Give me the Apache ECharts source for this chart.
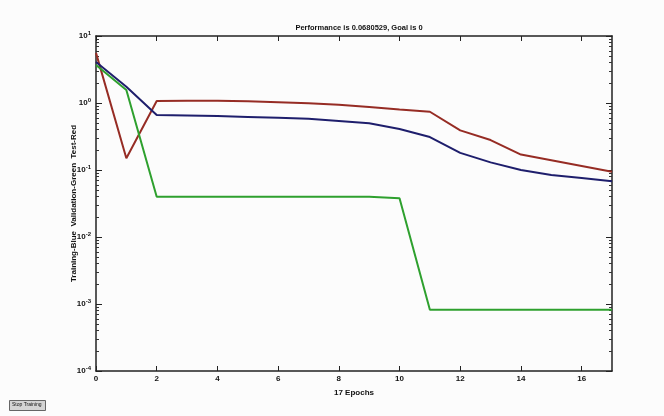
<!DOCTYPE html>
<html>
<head>
<meta charset="utf-8">
<script src="https://cdn.jsdelivr.net/npm/echarts@6/dist/echarts.min.js"></script>
<style>
html,body{margin:0;padding:0;background:#fcfcfc;}
#c{width:664px;height:416px;}
</style>
</head>
<body>
<div id="c"></div>
<script>
const epochs = [0,1,2,3,4,5,6,7,8,9,10,11,12,13,14,15,16,17];
const training = [4.1,1.75,0.66,0.65,0.64,0.62,0.60,0.58,0.54,0.50,0.41,0.31,0.18,0.13,0.10,0.084,0.076,0.068];
const validation = [3.7,1.56,0.040,0.040,0.040,0.040,0.040,0.040,0.040,0.040,0.038,0.00082,0.00082,0.00082,0.00082,0.00082,0.00082,0.00082];
const test = [5.6,0.15,1.07,1.08,1.08,1.06,1.03,0.99,0.94,0.87,0.80,0.74,0.39,0.28,0.17,0.14,0.115,0.094];
const xTickLabels = [0,2,4,6,8,10,12,14,16];
const yDecadeExponents = [-4,-3,-2,-1,0,1];
const titleText = 'Performance is 0.0680529, Goal is 0';
const xName = '17 Epochs';
const yName = 'Training-Blue  Validation-Green  Test-Red';

const FONT = '"Liberation Sans Narrow","Arial Narrow","Liberation Sans",sans-serif';
const yMin = Math.min(...yDecadeExponents), yMax = Math.max(...yDecadeExponents);
const minorLog = [];
for (let e = yMin; e < yMax; e++) for (let k = 2; k <= 9; k++) minorLog.push(e + Math.log10(k));

function pair(arr){ return epochs.map((x,i)=>[x, arr[i]]); }

const chart = echarts.init(document.getElementById('c'), null, {renderer:'canvas'});
const GRID = {left:96, right:52, top:36, bottom:45};
const textBold = {fontFamily:FONT, fontSize:8, fontWeight:'bold', color:'#111'};
chart.setOption({
  backgroundColor:'#fcfcfc',
  animation:false,
  title:{text:titleText, left:354, top:19, textAlign:'center',
    textStyle:{fontFamily:FONT, fontSize:7.5, fontWeight:'bold', color:'#111'}},
  grid:[Object.assign({}, GRID), Object.assign({}, GRID)],
  xAxis:[
    {gridIndex:0, type:'value', min:0, max:17, position:'bottom',
     name:xName, nameLocation:'middle', nameGap:18, nameMoveOverlap:false, nameTextStyle:textBold,
     axisLine:{onZero:false, lineStyle:{color:'#222', width:1.5}},
     axisTick:{inside:true, length:5, customValues:xTickLabels, lineStyle:{color:'#222'}},
     axisLabel:{customValues:xTickLabels, margin:4, fontFamily:FONT, fontSize:8, fontWeight:'bold', color:'#111'},
     splitLine:{show:false}},
    {gridIndex:0, type:'value', min:0, max:17, position:'top',
     axisLine:{onZero:false, lineStyle:{color:'#222', width:1.5}},
     axisTick:{inside:true, length:5, customValues:xTickLabels, lineStyle:{color:'#222'}},
     axisLabel:{show:false}, splitLine:{show:false}},
    {gridIndex:1, type:'value', min:0, max:17, show:false}
  ],
  yAxis:[
    {gridIndex:0, type:'log', logBase:10, min:Math.pow(10,yMin), max:Math.pow(10,yMax), position:'left',
     name:yName, nameLocation:'middle', nameGap:18, nameMoveOverlap:false, nameTextStyle:textBold,
     axisLine:{onZero:false, lineStyle:{color:'#222', width:1.5}},
     axisTick:{inside:true, length:6, lineStyle:{color:'#222'}},
     axisLabel:{margin:5, fontFamily:FONT, color:'#111',
       formatter:function(v){ const e=Math.round(Math.log10(v)); return '{b|10}{s|'+e+'}'; },
       rich:{b:{fontFamily:FONT, fontSize:8, fontWeight:'bold', color:'#111'},
             s:{fontFamily:FONT, fontSize:6, fontWeight:'bold', color:'#111', verticalAlign:'top', padding:[0,0,6,0]}}},
     splitLine:{show:false}},
    {gridIndex:0, type:'log', logBase:10, min:Math.pow(10,yMin), max:Math.pow(10,yMax), position:'right',
     axisLine:{onZero:false, lineStyle:{color:'#222', width:1.5}},
     axisTick:{inside:true, length:6, lineStyle:{color:'#222'}},
     axisLabel:{show:false}, splitLine:{show:false}},
    {gridIndex:1, type:'value', min:yMin, max:yMax, interval:1, position:'left',
     axisLine:{show:false}, splitLine:{show:false}, axisLabel:{show:false},
     axisTick:{show:true, inside:true, length:3, customValues:minorLog, lineStyle:{color:'#333'}}},
    {gridIndex:1, type:'value', min:yMin, max:yMax, interval:1, position:'right',
     axisLine:{show:false}, splitLine:{show:false}, axisLabel:{show:false},
     axisTick:{show:true, inside:true, length:3, customValues:minorLog, lineStyle:{color:'#333'}}}
  ],
  series:[
    {name:'Test', type:'line', data:pair(test), xAxisIndex:0, yAxisIndex:0,
     symbol:'none', lineStyle:{color:'#962c24', width:2}, z:2},
    {name:'Validation', type:'line', data:pair(validation), xAxisIndex:0, yAxisIndex:0,
     symbol:'none', lineStyle:{color:'#2ea02e', width:2}, z:3},
    {name:'Training', type:'line', data:pair(training), xAxisIndex:0, yAxisIndex:0,
     symbol:'none', lineStyle:{color:'#1e1e6c', width:2}, z:4}
  ],
  graphic:[
    {type:'rect', left:9, top:400, shape:{width:36, height:10},
     style:{fill:'#d4d4d4', stroke:'#666', lineWidth:1}},
    {type:'text', left:12, top:402, style:{text:'Stop Training', fontFamily:FONT, fontSize:5, fill:'#111'}}
  ]
});
</script>
</body>
</html>
